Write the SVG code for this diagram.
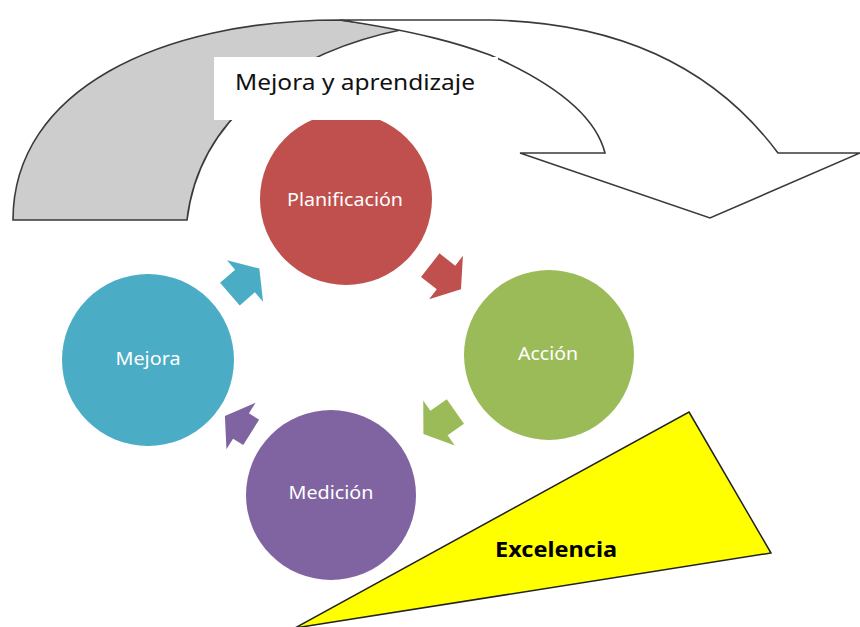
<svg xmlns="http://www.w3.org/2000/svg" xmlns:xlink="http://www.w3.org/1999/xlink" width="860" height="627" viewBox="0 0 860 627">
  <style>
    .band { stroke: #3a3a3a; stroke-width: 1.6; stroke-linejoin: miter; }
    .node-label { font-family: "Noto Sans", "Open Sans", sans-serif; font-size: 18px; fill: #ffffff; text-anchor: middle; }
    .title { font-family: "Noto Sans", "Open Sans", sans-serif; font-size: 22px; fill: #111111; }
    .excel { font-family: "Noto Sans", "Open Sans", sans-serif; font-size: 22px; font-weight: bold; fill: #000000; text-anchor: middle; }
  </style>
  <defs>
    <polygon id="arr" points="-20,-15 0,-15 0,-27.5 19,0 0,27.5 0,15 -20,15"/>
    <polygon id="arr-short" points="-12,-15 0,-15 0,-27.5 19,0 0,27.5 0,15 -12,15"/>
  </defs>
  <rect width="860" height="627" fill="#ffffff"/>

  <g id="curved-arrow">
    <path class="band" fill="#cdcdcd" d="M13,220 C13,90 160,20 340,20 L405,29 C300,50 200,110 187,220 Z"/>
    <path class="band" fill="#ffffff" d="M340,20 L490,20 C600,22 705,55 778,153 L860,153 L710,218 L520,153 L605,153 C598,125 570,90 490,55 C460,44 420,32 340,20 Z"/>
  </g>

  <g id="planificacion">
    <circle cx="346" cy="199" r="86" fill="#C0504D"/>
    <text class="node-label" x="345" y="205.5" textLength="116" lengthAdjust="spacingAndGlyphs">Planificación</text>
  </g>
  <g id="accion">
    <circle cx="549" cy="355" r="85" fill="#9BBB59"/>
    <text class="node-label" x="548" y="360" textLength="60" lengthAdjust="spacingAndGlyphs">Acción</text>
  </g>
  <g id="medicion">
    <circle cx="331" cy="495" r="85" fill="#8064A2"/>
    <text class="node-label" x="331" y="499" textLength="85" lengthAdjust="spacingAndGlyphs">Medición</text>
  </g>
  <g id="mejora">
    <circle cx="148" cy="360" r="86" fill="#4BACC6"/>
    <text class="node-label" x="148" y="365" textLength="65" lengthAdjust="spacingAndGlyphs">Mejora</text>
  </g>

  <g id="connectors">
    <use xlink:href="#arr" href="#arr" fill="#C0504D" transform="translate(446,277.5) rotate(38)"/>
    <use xlink:href="#arr" href="#arr" fill="#9BBB59" transform="translate(439,423) rotate(145)"/>
    <use xlink:href="#arr-short" href="#arr-short" fill="#8064A2" transform="translate(241,426) rotate(212)"/>
    <use xlink:href="#arr" href="#arr" fill="#4BACC6" transform="translate(245,281) rotate(-41)"/>
  </g>

  <g id="label-mejora-aprendizaje">
    <rect x="214" y="57" width="284" height="63" fill="#ffffff"/>
    <text class="title" x="235" y="90" textLength="240" lengthAdjust="spacingAndGlyphs">Mejora y aprendizaje</text>
  </g>

  <g id="excelencia">
    <polygon points="689,412 771,553 295,628" fill="#FFFF00" stroke="#222222" stroke-width="1.5" stroke-linejoin="miter"/>
    <text class="excel" x="556" y="557" textLength="122" lengthAdjust="spacingAndGlyphs">Excelencia</text>
  </g>
</svg>
